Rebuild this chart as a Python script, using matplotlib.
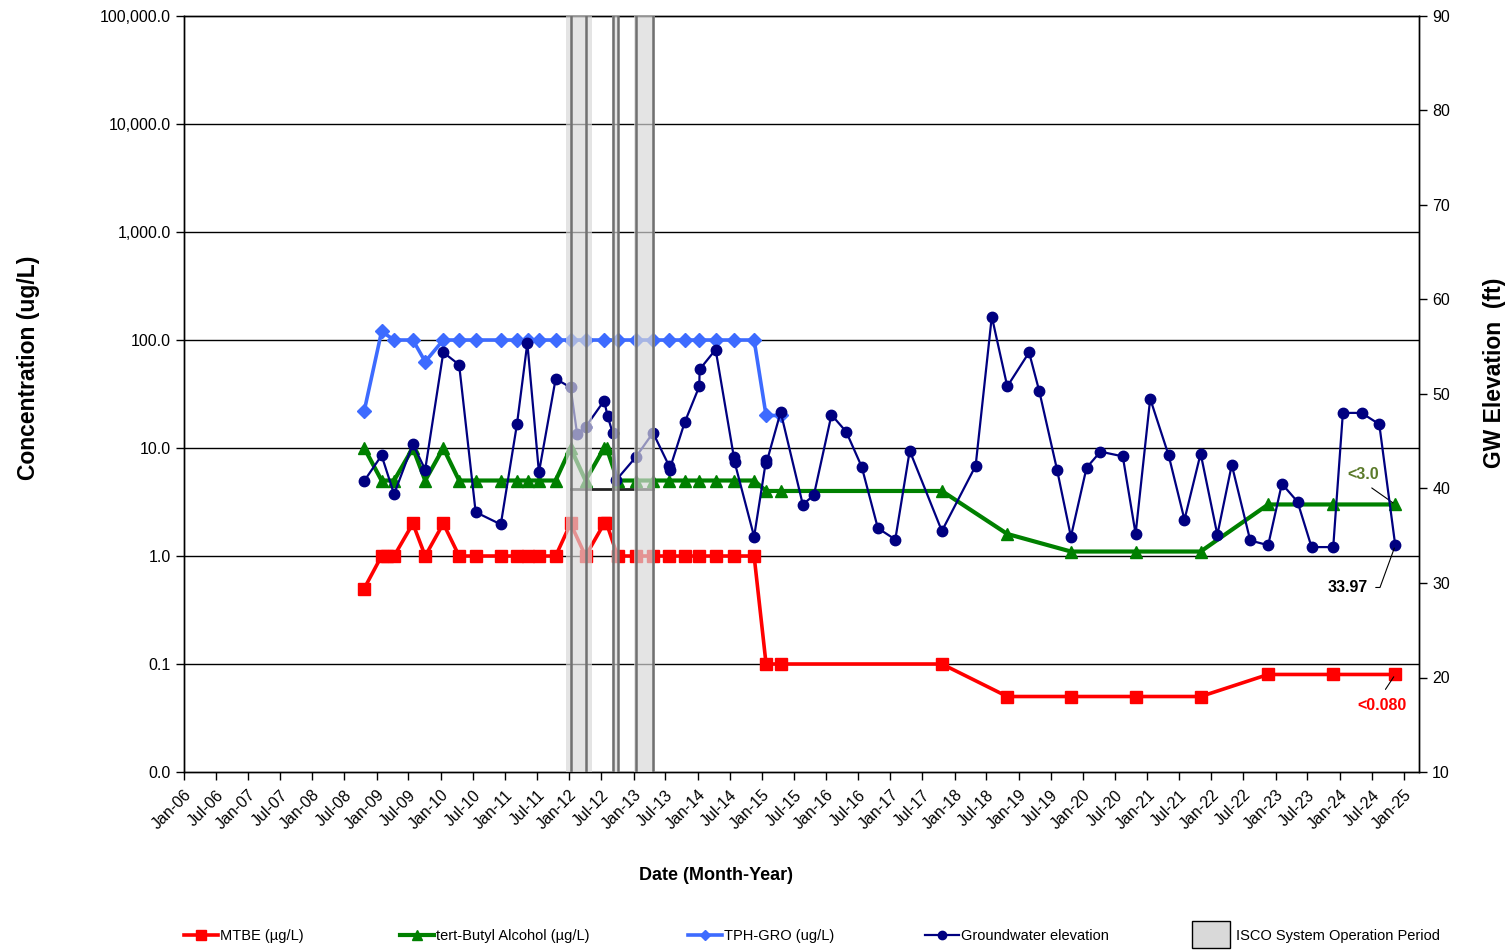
import matplotlib
matplotlib.use("Agg")
import matplotlib.pyplot as plt
import matplotlib.dates as mdates
from matplotlib.lines import Line2D
from matplotlib.patches import Patch, Rectangle
from matplotlib.legend_handler import HandlerPatch
from matplotlib.ticker import FixedLocator, FuncFormatter, NullLocator
import pandas as pd

plt.rcParams['font.family'] = ['Liberation Sans', 'DejaVu Sans']

# --- sample data ---
mtbe_dates = ['2008-10-22', '2009-01-29', '2009-02-27', '2009-04-10', '2009-07-26', '2009-10-04',
              '2010-01-15', '2010-04-15', '2010-07-18', '2010-12-08', '2011-03-10', '2011-05-10',
              '2011-07-13', '2011-10-16', '2012-01-09', '2012-04-03', '2012-07-18', '2012-08-01',
              '2012-10-02', '2013-01-13', '2013-04-22', '2013-07-22', '2013-10-19', '2014-01-10',
              '2014-04-13', '2014-07-28', '2014-11-18', '2015-01-25', '2015-04-18', '2017-10-21',
              '2018-10-28', '2019-10-25', '2020-10-27', '2021-11-01', '2022-11-20', '2023-11-25',
              '2024-11-12']
mtbe_vals = [0.5, 1.0, 1.0, 1.0, 2.0, 1.0,
             2.0, 1.0, 1.0, 1.0, 1.0, 1.0,
             1.0, 1.0, 2.0, 1.0, 2.0, 2.0,
             1.0, 1.0, 1.0, 1.0, 1.0, 1.0,
             1.0, 1.0, 1.0, 0.1, 0.1, 0.1,
             0.05, 0.05, 0.05, 0.05, 0.08, 0.08,
             0.08]

tba_dates = ['2008-10-22', '2009-01-29', '2009-04-10', '2009-07-26', '2009-10-04', '2010-01-15',
             '2010-04-15', '2010-07-18', '2010-12-08', '2011-03-10', '2011-05-10', '2011-07-13',
             '2011-10-16', '2012-01-09', '2012-04-03', '2012-07-18', '2012-08-01', '2012-10-02',
             '2013-01-13', '2013-04-22', '2013-07-22', '2013-10-19', '2014-01-10', '2014-04-13',
             '2014-07-28', '2014-11-18', '2015-01-25', '2015-04-18', '2017-10-21', '2018-10-28',
             '2019-10-25', '2020-10-27', '2021-11-01', '2022-11-20', '2023-11-25', '2024-11-12']
tba_vals = [10, 5, 5, 10, 5, 10,
            5, 5, 5, 5, 5, 5,
            5, 10, 5, 10, 10, 5,
            5, 5, 5, 5, 5, 5,
            5, 5, 4.0, 4.0, 4.0, 1.6,
            1.1, 1.1, 1.1, 3.0, 3.0, 3.0]

tph_dates = ['2008-10-22', '2009-01-29', '2009-04-10', '2009-07-26', '2009-10-04', '2010-01-15',
             '2010-04-15', '2010-07-18', '2010-12-08', '2011-03-10', '2011-05-10', '2011-07-13',
             '2011-10-16', '2012-01-09', '2012-04-03', '2012-07-18', '2012-10-02', '2013-01-13',
             '2013-04-22', '2013-07-22', '2013-10-19', '2014-01-10', '2014-04-13', '2014-07-28',
             '2014-11-18', '2015-01-25', '2015-04-18']
tph_vals = [22, 120, 100, 100, 63, 100,
            100, 100, 100, 100, 100, 100,
            100, 100, 100, 100, 100, 100,
            100, 100, 100, 100, 100, 100,
            100, 20, 20]

gw_dates = ['2008-10-22', '2009-01-29', '2009-04-10', '2009-07-26', '2009-10-04', '2010-01-15',
            '2010-04-15', '2010-07-18', '2010-12-08', '2011-03-10', '2011-05-08', '2011-07-13',
            '2011-10-16', '2012-01-09', '2012-02-15', '2012-04-03', '2012-07-18', '2012-08-06',
            '2012-09-04', '2012-09-25', '2013-01-13', '2013-04-22', '2013-07-22', '2013-07-25',
            '2013-10-19', '2014-01-10', '2014-01-12', '2014-04-13', '2014-07-26', '2014-07-30',
            '2014-11-18', '2015-01-25', '2015-01-27', '2015-04-18', '2015-08-22', '2015-10-24',
            '2016-02-01', '2016-04-25', '2016-07-22', '2016-10-22', '2017-01-29', '2017-04-21',
            '2017-10-21', '2018-05-01', '2018-08-01', '2018-10-28', '2019-03-01', '2019-04-28',
            '2019-08-07', '2019-10-25', '2020-01-22', '2020-04-10', '2020-08-15', '2020-10-27',
            '2021-01-18', '2021-05-03', '2021-08-01', '2021-11-01', '2022-02-04', '2022-04-27',
            '2022-08-10', '2022-11-20', '2023-02-06', '2023-05-06', '2023-07-25', '2023-11-25',
            '2024-01-19', '2024-05-04', '2024-08-13', '2024-11-12']
gw_vals = [40.8, 43.5, 39.4, 44.7, 42.0, 54.4,
           53.1, 37.5, 36.2, 46.8, 55.4, 41.7,
           51.6, 50.7, 45.8, 46.5, 49.3, 47.7,
           45.9, 40.9, 43.3, 45.9, 42.4, 42.0,
           47.0, 50.8, 52.6, 54.7, 43.3, 42.8,
           34.9, 43.0, 42.7, 48.1, 38.3, 39.3,
           47.8, 46.0, 42.3, 35.8, 34.6, 44.0,
           35.5, 42.4, 58.2, 50.8, 54.4, 50.3,
           42.0, 34.9, 42.2, 43.9, 43.4, 35.2,
           49.5, 43.5, 36.7, 43.7, 35.1, 42.5,
           34.5, 34.0, 40.5, 38.6, 33.8, 33.8,
           48.0, 48.0, 46.8, 33.97]

# ISCO operation periods (shaded) and the edge lines inside each period
isco_start = ['2011-12-13', '2012-08-29', '2013-01-01']
isco_end = ['2012-05-09', '2012-10-12', '2013-05-01']
isco_edges = ['2012-01-10', '2012-04-03', '2012-09-04', '2012-10-06', '2013-01-16', '2013-04-22']
isco_base_level = 4.2

conc_ticks = [0.01, 0.1, 1, 10, 100, 1000, 10000, 100000]
gw_ticks = [10, 20, 30, 40, 50, 60, 70, 80, 90]

legend_labels = ['MTBE (µg/L)', 'tert-Butyl Alcohol (µg/L)', 'TPH-GRO (ug/L)',
                 'Groundwater elevation', 'ISCO System Operation Period']

to_dt = pd.to_datetime

fig = plt.figure(figsize=(15.12, 9.5), dpi=100)
ax1 = fig.add_axes([184 / 1512, 1 - 772 / 950, 1235 / 1512, 756 / 950])
ax2 = ax1.twinx()

# concentrations on log axis
ax1.plot(to_dt(mtbe_dates), mtbe_vals, color='#FF0000', lw=2.6, marker='s', ms=8.5,
         mec='#FF0000', mfc='#FF0000', zorder=4)
ax1.plot(to_dt(tba_dates), tba_vals, color='#008000', lw=3, marker='^', ms=9,
         mec='#008000', mfc='#008000', zorder=3)
ax1.plot(to_dt(tph_dates), tph_vals, color='#3D6BFF', lw=2.6, marker='D', ms=7,
         mec='#3D6BFF', mfc='#3D6BFF', zorder=3)
ax1.plot(to_dt([isco_edges[0], isco_edges[-1]]), [isco_base_level, isco_base_level],
         color='#222222', lw=2, zorder=2)

ax1.set_yscale('log')
ax1.set_ylim(0.01, 100000)
ax1.yaxis.set_major_locator(FixedLocator(conc_ticks))
ax1.yaxis.set_minor_locator(NullLocator())
ax1.yaxis.set_major_formatter(FuncFormatter(lambda v, p: '{:,.1f}'.format(v)))
for t in conc_ticks[1:-1]:
    ax1.axhline(t, color='black', lw=1, zorder=1)

ax1.set_xlim(to_dt('2006-01-01'), to_dt('2025-03-27'))
ax1.xaxis.set_major_locator(mdates.MonthLocator(bymonth=[1, 7]))
ax1.xaxis.set_major_formatter(mdates.DateFormatter('%b-%y'))
for lbl in ax1.get_xticklabels():
    lbl.set_rotation(45)
    lbl.set_ha('right')
    lbl.set_rotation_mode('anchor')

# groundwater elevation on right axis
ax2.plot(to_dt(gw_dates), gw_vals, color='#000080', lw=1.6, marker='o', ms=7.5,
         mec='#000080', mfc='#000080', zorder=3)
ax2.set_ylim(10, 90)
ax2.yaxis.set_major_locator(FixedLocator(gw_ticks))

# ISCO periods drawn over the data
for s, e in zip(isco_start, isco_end):
    ax2.axvspan(to_dt(s), to_dt(e), color='#D8D8D8', alpha=0.68, lw=0, zorder=6)
for d in isco_edges:
    ax2.axvline(to_dt(d), color='#707070', lw=1.8, zorder=7)

for ax in (ax1, ax2):
    ax.tick_params(direction='out', length=6, width=1, labelsize=11.5, colors='black')
    for sp in ax.spines.values():
        sp.set_color('black')
        sp.set_linewidth(1)
ax1.tick_params(axis='x', labelsize=11.5, pad=5)

ax1.set_ylabel('Concentration (ug/L)', fontsize=16.5, fontweight='bold')
ax1.yaxis.set_label_coords(-0.117, 0.535)
ax2.set_ylabel('GW Elevation  (ft)', fontsize=16.5, fontweight='bold', rotation=90)
ax2.yaxis.set_label_coords(1.052, 0.528)
ax1.set_xlabel('Date (Month-Year)', fontsize=13, fontweight='bold')
ax1.xaxis.set_label_coords(0.4308, -0.125)

# value callouts for the latest sampling event
last = to_dt(gw_dates[-1])
ax1.annotate('<3.0', xy=(to_dt(tba_dates[-1]), tba_vals[-1]), xytext=(-32, 30),
             textcoords='offset pixels', ha='center', va='center', fontsize=11.5,
             fontweight='bold', color='#5B7A2A',
             arrowprops=dict(arrowstyle='-', color='black', lw=0.8, shrinkA=4, shrinkB=2,
                             relpos=(0.5, 0.0)), zorder=8)
ax1.annotate('<0.080', xy=(to_dt(mtbe_dates[-1]), mtbe_vals[-1]), xytext=(-13, -31),
             textcoords='offset pixels', ha='center', va='center', fontsize=11.5,
             fontweight='bold', color='#FF0000',
             arrowprops=dict(arrowstyle='-', color='black', lw=0.8, shrinkA=5, shrinkB=2,
                             relpos=(0.45, 1.0)), zorder=8)
ax2.annotate('33.97', xy=(last, gw_vals[-1]), xytext=(-48, -42),
             textcoords='offset pixels', ha='center', va='center', fontsize=11.5,
             fontweight='bold', color='black',
             arrowprops=dict(arrowstyle='-', color='black', lw=0.8, shrinkA=4, shrinkB=2,
                             relpos=(1.0, 0.5),
                             connectionstyle='angle,angleA=0,angleB=70,rad=0'), zorder=8)


def big_box(legend, orig_handle, xdescent, ydescent, width, height, fontsize):
    # taller swatch for the shaded-period entry
    return Rectangle((-xdescent, -ydescent - 6), width, height + 12)


handles = [
    Line2D([], [], color='#FF0000', lw=2.6, marker='s', ms=7, mfc='#FF0000', mec='#FF0000'),
    Line2D([], [], color='#008000', lw=3, marker='^', ms=7, mfc='#008000', mec='#008000'),
    Line2D([], [], color='#3D6BFF', lw=2.6, marker='D', ms=5.5, mfc='#3D6BFF', mec='#3D6BFF'),
    Line2D([], [], color='#000080', lw=1.6, marker='o', ms=6, mfc='#000080', mec='#000080'),
    Patch(facecolor='#D9D9D9', edgecolor='black', lw=1),
]
# one legend entry per slot along the bottom
legend_x = [184, 400, 688, 925, 1192]
for h, lab, x in zip(handles, legend_labels, legend_x):
    is_box = isinstance(h, Patch)
    fig.legend([h], [lab], loc='center left', bbox_to_anchor=(x / 1512, 14 / 950),
               frameon=False, fontsize=10.5, handlelength=2.6 if is_box else 2.3,
               handletextpad=0.4 if is_box else 0.15, borderpad=0, borderaxespad=0,
               handler_map={Patch: HandlerPatch(patch_func=big_box)})

fig.savefig('out.png', dpi=100)
